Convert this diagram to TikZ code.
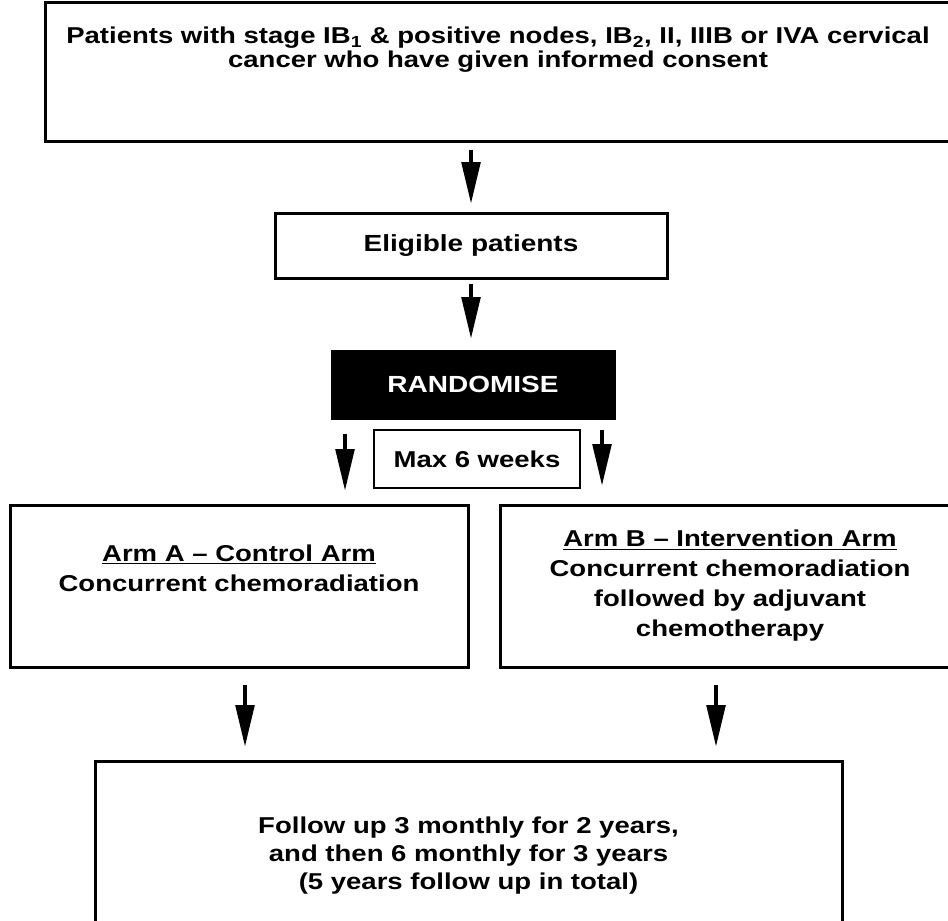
\documentclass[tikz,border=0pt]{standalone}
\usepackage{fontspec}
\setmainfont{Liberation Sans}[FakeStretch=1.2]
\usetikzlibrary{arrows.meta}
\tikzset{every picture/.style={line width=0.75pt}}

\begin{document}
\begin{tikzpicture}[x=0.75pt,y=0.75pt,yscale=-1,xscale=1,
  box/.style={draw, line width=2.25pt, inner sep=0pt},
  lbl/.style={font=\bfseries\fontsize{17.2}{22.5}\selectfont, align=center},
  arr/.style={-{Triangle[length=31pt,width=14pt]}, line width=2.5pt}]
\useasboundingbox (0,0) rectangle (948,920);
\clip (0,0) rectangle (948,920);

%Box: inclusion
\node [box, minimum width=697.5pt, minimum height=104.25pt] (top) at (510,72.5) {};
\node [lbl, font=\bfseries\fontsize{17.2}{18}\selectfont] (toptext) at (498,50) {Patients with stage IB\textsubscript{1} \& positive nodes, IB\textsubscript{2}, II, IIIB or IVA cervical\\cancer who have given informed consent};
%Box: eligible
\node [box, lbl, font=\bfseries\fontsize{17.5}{22.5}\selectfont, minimum width=294pt, minimum height=48.75pt] (elig) at (471,245.5) {Eligible patients};
%Box: randomise
\node [box, lbl, font=\bfseries\fontsize{17.5}{22.5}\selectfont, fill=black, text=white, minimum width=211.5pt, minimum height=50.25pt] (rand) at (473,384.5) {RANDOMISE};
%Box: window
\node [draw, lbl, line width=0.9pt, minimum width=154.5pt, minimum height=43.5pt] (wait) at (477,459) {Max 6 weeks};
%Box: arm A
\node [box, minimum width=343.5pt, minimum height=121.5pt] (armA) at (239,586) {};
\node [lbl] (armAtext) at (239,568) {\underline{Arm A -- Control Arm}\\Concurrent chemoradiation};
%Box: arm B
\node [box, lbl, minimum width=345pt, minimum height=121.5pt] (armB) at (730,586) {\underline{Arm B -- Intervention Arm}\\Concurrent chemoradiation\\followed by adjuvant\\chemotherapy};
%Box: follow up
\node [box, lbl, font=\bfseries\fontsize{17.2}{21}\selectfont, minimum width=560.25pt, minimum height=142.5pt] (follow) at (468.5,856) {Follow up 3 monthly for 2 years,\\and then 6 monthly for 3 years\\(5 years follow up in total)};

%Arrows
\draw [arr, shorten <=4.5pt, shorten >=6pt] (top.south -| elig.north) -- (elig.north);
\draw [arr, shorten <=3pt, shorten >=8.25pt] (elig.south) -- (elig.south |- rand.north);
\draw [arr, shorten <=10.5pt, shorten >=9.75pt] ([xshift=-96pt]rand.south) -- ([xshift=-96pt]rand.south |- armA.north);
\draw [arr, shorten <=7.5pt, shorten >=13.5pt] ([xshift=96.75pt]rand.south) -- ([xshift=96.75pt]rand.south |- armB.north);
\draw [arr, shorten <=12pt, shorten >=9.75pt] ([xshift=4.5pt]armA.south) -- ([xshift=4.5pt]armA.south |- follow.north);
\draw [arr, shorten <=12pt, shorten >=9.75pt] ([xshift=-10.5pt]armB.south) -- ([xshift=-10.5pt]armB.south |- follow.north);
\end{tikzpicture}
\end{document}
